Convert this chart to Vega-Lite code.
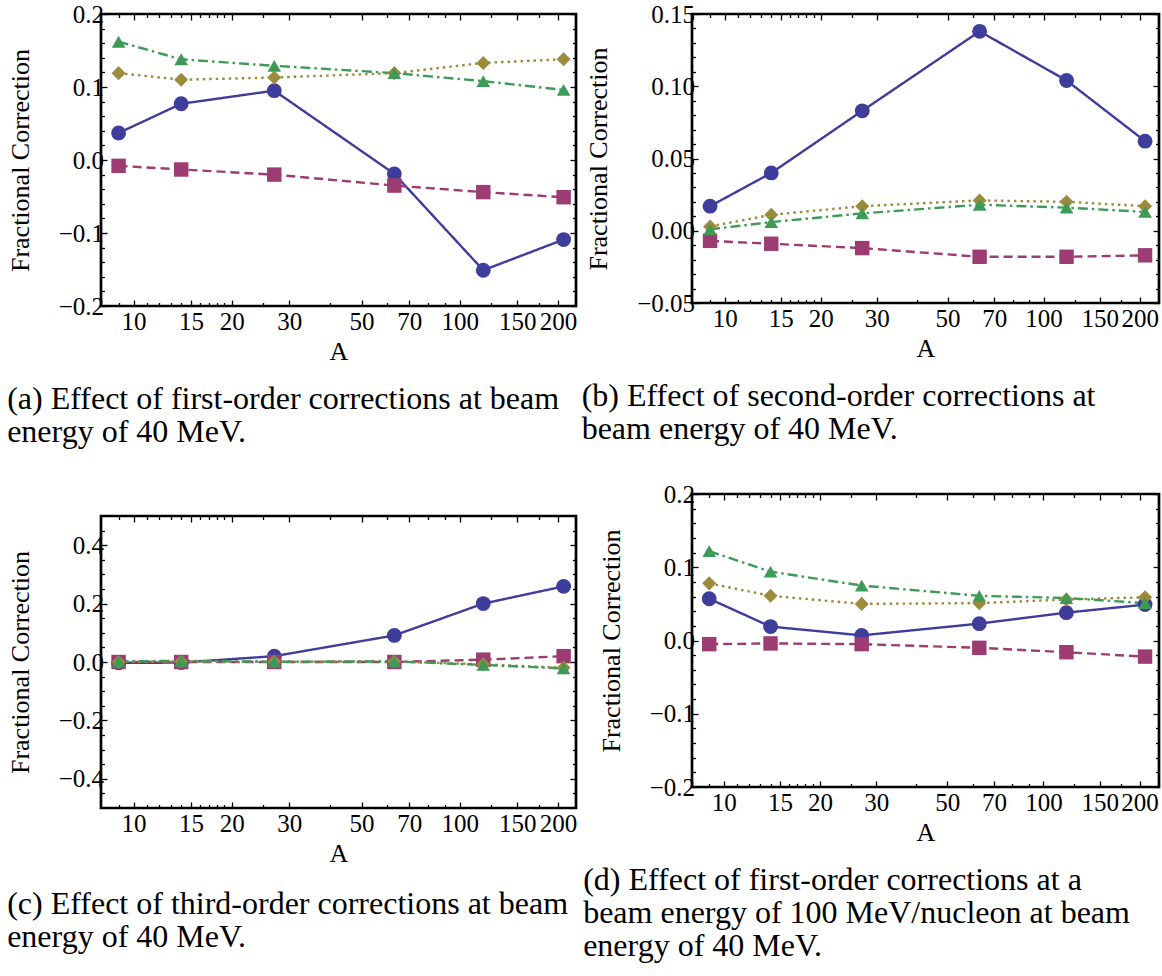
{
  "$schema": "https://vega.github.io/schema/vega-lite/v6.json",
  "padding": {"left": 5, "top": 0, "right": 0, "bottom": 0},
  "background": "white",
  "datasets": {
    "a": [
      {"A": 9, "series": "s1", "value": 0.037}, {"A": 14, "series": "s1", "value": 0.077}, {"A": 27, "series": "s1", "value": 0.095}, {"A": 63, "series": "s1", "value": -0.019}, {"A": 118, "series": "s1", "value": -0.151}, {"A": 208, "series": "s1", "value": -0.109},
      {"A": 9, "series": "s2", "value": -0.008}, {"A": 14, "series": "s2", "value": -0.013}, {"A": 27, "series": "s2", "value": -0.020}, {"A": 63, "series": "s2", "value": -0.035}, {"A": 118, "series": "s2", "value": -0.044}, {"A": 208, "series": "s2", "value": -0.051},
      {"A": 9, "series": "s3", "value": 0.119}, {"A": 14, "series": "s3", "value": 0.110}, {"A": 27, "series": "s3", "value": 0.113}, {"A": 63, "series": "s3", "value": 0.119}, {"A": 118, "series": "s3", "value": 0.133}, {"A": 208, "series": "s3", "value": 0.138},
      {"A": 9, "series": "s4", "value": 0.162}, {"A": 14, "series": "s4", "value": 0.138}, {"A": 27, "series": "s4", "value": 0.129}, {"A": 63, "series": "s4", "value": 0.119}, {"A": 118, "series": "s4", "value": 0.108}, {"A": 208, "series": "s4", "value": 0.096}
    ],
    "b": [
      {"A": 9, "series": "s1", "value": 0.017}, {"A": 14, "series": "s1", "value": 0.040}, {"A": 27, "series": "s1", "value": 0.083}, {"A": 63, "series": "s1", "value": 0.138}, {"A": 118, "series": "s1", "value": 0.104}, {"A": 208, "series": "s1", "value": 0.062},
      {"A": 9, "series": "s2", "value": -0.007}, {"A": 14, "series": "s2", "value": -0.009}, {"A": 27, "series": "s2", "value": -0.012}, {"A": 63, "series": "s2", "value": -0.018}, {"A": 118, "series": "s2", "value": -0.018}, {"A": 208, "series": "s2", "value": -0.017},
      {"A": 9, "series": "s3", "value": 0.003}, {"A": 14, "series": "s3", "value": 0.011}, {"A": 27, "series": "s3", "value": 0.017}, {"A": 63, "series": "s3", "value": 0.021}, {"A": 118, "series": "s3", "value": 0.020}, {"A": 208, "series": "s3", "value": 0.017},
      {"A": 9, "series": "s4", "value": 0.001}, {"A": 14, "series": "s4", "value": 0.006}, {"A": 27, "series": "s4", "value": 0.012}, {"A": 63, "series": "s4", "value": 0.018}, {"A": 118, "series": "s4", "value": 0.016}, {"A": 208, "series": "s4", "value": 0.013}
    ],
    "c": [
      {"A": 9, "series": "s1", "value": -0.003}, {"A": 14, "series": "s1", "value": -0.002}, {"A": 27, "series": "s1", "value": 0.020}, {"A": 63, "series": "s1", "value": 0.091}, {"A": 118, "series": "s1", "value": 0.200}, {"A": 208, "series": "s1", "value": 0.259},
      {"A": 9, "series": "s2", "value": 0.000}, {"A": 14, "series": "s2", "value": 0.000}, {"A": 27, "series": "s2", "value": 0.000}, {"A": 63, "series": "s2", "value": 0.000}, {"A": 118, "series": "s2", "value": 0.008}, {"A": 208, "series": "s2", "value": 0.020},
      {"A": 9, "series": "s3", "value": 0.000}, {"A": 14, "series": "s3", "value": 0.002}, {"A": 27, "series": "s3", "value": 0.001}, {"A": 63, "series": "s3", "value": 0.002}, {"A": 118, "series": "s3", "value": -0.008}, {"A": 208, "series": "s3", "value": -0.020},
      {"A": 9, "series": "s4", "value": 0.002}, {"A": 14, "series": "s4", "value": 0.004}, {"A": 27, "series": "s4", "value": 0.001}, {"A": 63, "series": "s4", "value": 0.002}, {"A": 118, "series": "s4", "value": -0.010}, {"A": 208, "series": "s4", "value": -0.022}
    ],
    "d": [
      {"A": 9, "series": "s1", "value": 0.057}, {"A": 14, "series": "s1", "value": 0.019}, {"A": 27, "series": "s1", "value": 0.007}, {"A": 63, "series": "s1", "value": 0.023}, {"A": 118, "series": "s1", "value": 0.038}, {"A": 208, "series": "s1", "value": 0.049},
      {"A": 9, "series": "s2", "value": -0.005}, {"A": 14, "series": "s2", "value": -0.004}, {"A": 27, "series": "s2", "value": -0.005}, {"A": 63, "series": "s2", "value": -0.010}, {"A": 118, "series": "s2", "value": -0.016}, {"A": 208, "series": "s2", "value": -0.022},
      {"A": 9, "series": "s3", "value": 0.078}, {"A": 14, "series": "s3", "value": 0.061}, {"A": 27, "series": "s3", "value": 0.050}, {"A": 63, "series": "s3", "value": 0.051}, {"A": 118, "series": "s3", "value": 0.056}, {"A": 208, "series": "s3", "value": 0.059},
      {"A": 9, "series": "s4", "value": 0.122}, {"A": 14, "series": "s4", "value": 0.094}, {"A": 27, "series": "s4", "value": 0.075}, {"A": 63, "series": "s4", "value": 0.061}, {"A": 118, "series": "s4", "value": 0.058}, {"A": 208, "series": "s4", "value": 0.051}
    ]
  },
  "hconcat": [
    {
      "vconcat": [
        {
          "width": 475, "height": 292,
          "data": {"name": "a"},
          "title": {"text": ["(a) Effect of first-order corrections at beam", "energy of 40 MeV."], "offset": 20},
          "layer": [
            {"mark": {"type": "line", "strokeWidth": 2.4},
             "encoding": {
               "x": {"field": "A", "type": "quantitative", "scale": {"type": "log", "domain": [7.95, 227], "nice": false}, "axis": {"orient": "bottom", "values": [10, 15, 20, 30, 50, 70, 100, 150, 200], "format": "d", "tickSize": -6, "labelPadding": 9, "title": "A", "titlePadding": 4}},
               "y": {"field": "value", "type": "quantitative", "scale": {"domain": [-0.2, 0.2], "nice": false, "zero": false}, "axis": {"orient": "left", "values": [-0.2, -0.1, 0, 0.1, 0.2], "format": ".1f", "tickSize": -6, "labelPadding": 3.5, "title": "Fractional Correction", "titlePadding": 25}},
               "color": {"field": "series", "type": "nominal", "scale": {"domain": ["s1", "s2", "s3", "s4"], "range": ["#3f3d9c", "#9c3c72", "#9b8b3d", "#3d9b57"]}, "legend": null},
               "strokeDash": {"field": "series", "type": "nominal", "scale": {"domain": ["s1", "s2", "s3", "s4"], "range": [[1, 0], [9, 5], [2.5, 4], [10, 4, 2.5, 4]]}, "legend": null}
             }},
            {"mark": {"type": "point", "filled": true, "opacity": 1},
             "encoding": {
               "x": {"field": "A", "type": "quantitative", "axis": {"orient": "top", "values": [10, 15, 20, 30, 50, 70, 100, 150, 200], "tickSize": -6, "labels": false, "title": null}},
               "y": {"field": "value", "type": "quantitative", "axis": {"orient": "right", "values": [-0.2, -0.1, 0, 0.1, 0.2], "tickSize": -6, "labels": false, "title": null}},
               "color": {"field": "series", "type": "nominal", "legend": null},
               "shape": {"field": "series", "type": "nominal", "scale": {"domain": ["s1", "s2", "s3", "s4"], "range": ["circle", "square", "diamond", "triangle-up"]}, "legend": null},
               "size": {"field": "series", "type": "ordinal", "scale": {"domain": ["s1", "s2", "s3", "s4"], "range": [220, 185, 270, 260]}, "legend": null}
             }},
            {"mark": {"type": "point", "opacity": 0},
             "encoding": {
               "x": {"field": "A", "type": "quantitative", "axis": {"orient": "bottom", "values": [9, 11, 12, 13, 14, 16, 17, 18, 19, 25, 40, 60, 80, 90, 125, 175], "tickSize": -3.5, "labels": false, "title": null}},
               "y": {"field": "value", "type": "quantitative", "axis": {"orient": "left", "values": [-0.18, -0.16, -0.14, -0.12, -0.08, -0.06, -0.04, -0.02, 0.02, 0.04, 0.06, 0.08, 0.12, 0.14, 0.16, 0.18], "tickSize": -3.5, "labels": false, "title": null}}
             }},
            {"mark": {"type": "point", "opacity": 0},
             "encoding": {
               "x": {"field": "A", "type": "quantitative", "axis": {"orient": "top", "values": [9, 11, 12, 13, 14, 16, 17, 18, 19, 25, 40, 60, 80, 90, 125, 175], "tickSize": -3.5, "labels": false, "title": null}},
               "y": {"field": "value", "type": "quantitative", "axis": {"orient": "right", "values": [-0.18, -0.16, -0.14, -0.12, -0.08, -0.06, -0.04, -0.02, 0.02, 0.04, 0.06, 0.08, 0.12, 0.14, 0.16, 0.18], "tickSize": -3.5, "labels": false, "title": null}}
             }}
          ],
          "resolve": {"axis": {"x": "independent", "y": "independent"}}
        },
        {
          "width": 475, "height": 292,
          "data": {"name": "c"},
          "title": {"text": ["(c) Effect of third-order corrections at beam", "energy of 40 MeV."], "offset": 23},
          "layer": [
            {"mark": {"type": "line", "strokeWidth": 2.4},
             "encoding": {
               "x": {"field": "A", "type": "quantitative", "scale": {"type": "log", "domain": [7.95, 227], "nice": false}, "axis": {"orient": "bottom", "values": [10, 15, 20, 30, 50, 70, 100, 150, 200], "format": "d", "tickSize": -6, "labelPadding": 9, "title": "A", "titlePadding": 4}},
               "y": {"field": "value", "type": "quantitative", "scale": {"domain": [-0.5, 0.5], "nice": false, "zero": false}, "axis": {"orient": "left", "values": [-0.4, -0.2, 0, 0.2, 0.4], "format": ".1f", "tickSize": -6, "labelPadding": 3.5, "title": "Fractional Correction", "titlePadding": 25}},
               "color": {"field": "series", "type": "nominal", "scale": {"domain": ["s1", "s2", "s3", "s4"], "range": ["#3f3d9c", "#9c3c72", "#9b8b3d", "#3d9b57"]}, "legend": null},
               "strokeDash": {"field": "series", "type": "nominal", "scale": {"domain": ["s1", "s2", "s3", "s4"], "range": [[1, 0], [9, 5], [2.5, 4], [10, 4, 2.5, 4]]}, "legend": null}
             }},
            {"mark": {"type": "point", "filled": true, "opacity": 1},
             "encoding": {
               "x": {"field": "A", "type": "quantitative", "axis": {"orient": "top", "values": [10, 15, 20, 30, 50, 70, 100, 150, 200], "tickSize": -6, "labels": false, "title": null}},
               "y": {"field": "value", "type": "quantitative", "axis": {"orient": "right", "values": [-0.4, -0.2, 0, 0.2, 0.4], "tickSize": -6, "labels": false, "title": null}},
               "color": {"field": "series", "type": "nominal", "legend": null},
               "shape": {"field": "series", "type": "nominal", "scale": {"domain": ["s1", "s2", "s3", "s4"], "range": ["circle", "square", "diamond", "triangle-up"]}, "legend": null},
               "size": {"field": "series", "type": "ordinal", "scale": {"domain": ["s1", "s2", "s3", "s4"], "range": [220, 185, 270, 260]}, "legend": null}
             }},
            {"mark": {"type": "point", "opacity": 0},
             "encoding": {
               "x": {"field": "A", "type": "quantitative", "axis": {"orient": "bottom", "values": [9, 11, 12, 13, 14, 16, 17, 18, 19, 25, 40, 60, 80, 90, 125, 175], "tickSize": -3.5, "labels": false, "title": null}},
               "y": {"field": "value", "type": "quantitative", "axis": {"orient": "left", "values": [-0.45, -0.35, -0.3, -0.25, -0.15, -0.1, -0.05, 0.05, 0.1, 0.15, 0.25, 0.3, 0.35, 0.45], "tickSize": -3.5, "labels": false, "title": null}}
             }},
            {"mark": {"type": "point", "opacity": 0},
             "encoding": {
               "x": {"field": "A", "type": "quantitative", "axis": {"orient": "top", "values": [9, 11, 12, 13, 14, 16, 17, 18, 19, 25, 40, 60, 80, 90, 125, 175], "tickSize": -3.5, "labels": false, "title": null}},
               "y": {"field": "value", "type": "quantitative", "axis": {"orient": "right", "values": [-0.45, -0.35, -0.3, -0.25, -0.15, -0.1, -0.05, 0.05, 0.1, 0.15, 0.25, 0.3, 0.35, 0.45], "tickSize": -3.5, "labels": false, "title": null}}
             }}
          ],
          "resolve": {"axis": {"x": "independent", "y": "independent"}}
        }
      ],
      "spacing": 64
    },
    {
      "vconcat": [
        {
          "width": 467, "height": 289,
          "data": {"name": "b"},
          "title": {"text": ["(b) Effect of second-order corrections at", "beam energy of 40 MeV."], "offset": 20, "dx": -4},
          "layer": [
            {"mark": {"type": "line", "strokeWidth": 2.4},
             "encoding": {
               "x": {"field": "A", "type": "quantitative", "scale": {"type": "log", "domain": [7.9, 230], "nice": false}, "axis": {"orient": "bottom", "values": [10, 15, 20, 30, 50, 70, 100, 150, 200], "format": "d", "tickSize": -6, "labelPadding": 9, "title": "A", "titlePadding": 4}},
               "y": {"field": "value", "type": "quantitative", "scale": {"domain": [-0.05, 0.15], "nice": false, "zero": false}, "axis": {"orient": "left", "values": [-0.05, 0, 0.05, 0.1, 0.15], "format": ".2f", "tickSize": -6, "labelPadding": 3.5, "title": "Fractional Correction", "titlePadding": 25}},
               "color": {"field": "series", "type": "nominal", "scale": {"domain": ["s1", "s2", "s3", "s4"], "range": ["#3f3d9c", "#9c3c72", "#9b8b3d", "#3d9b57"]}, "legend": null},
               "strokeDash": {"field": "series", "type": "nominal", "scale": {"domain": ["s1", "s2", "s3", "s4"], "range": [[1, 0], [9, 5], [2.5, 4], [10, 4, 2.5, 4]]}, "legend": null}
             }},
            {"mark": {"type": "point", "filled": true, "opacity": 1},
             "encoding": {
               "x": {"field": "A", "type": "quantitative", "axis": {"orient": "top", "values": [10, 15, 20, 30, 50, 70, 100, 150, 200], "tickSize": -6, "labels": false, "title": null}},
               "y": {"field": "value", "type": "quantitative", "axis": {"orient": "right", "values": [-0.05, 0, 0.05, 0.1, 0.15], "tickSize": -6, "labels": false, "title": null}},
               "color": {"field": "series", "type": "nominal", "legend": null},
               "shape": {"field": "series", "type": "nominal", "scale": {"domain": ["s1", "s2", "s3", "s4"], "range": ["circle", "square", "diamond", "triangle-up"]}, "legend": null},
               "size": {"field": "series", "type": "ordinal", "scale": {"domain": ["s1", "s2", "s3", "s4"], "range": [220, 185, 270, 260]}, "legend": null}
             }},
            {"mark": {"type": "point", "opacity": 0},
             "encoding": {
               "x": {"field": "A", "type": "quantitative", "axis": {"orient": "bottom", "values": [9, 11, 12, 13, 14, 16, 17, 18, 19, 25, 40, 60, 80, 90, 125, 175], "tickSize": -3.5, "labels": false, "title": null}},
               "y": {"field": "value", "type": "quantitative", "axis": {"orient": "left", "values": [-0.04, -0.03, -0.02, -0.01, 0.01, 0.02, 0.03, 0.04, 0.06, 0.07, 0.08, 0.09, 0.11, 0.12, 0.13, 0.14], "tickSize": -3.5, "labels": false, "title": null}}
             }},
            {"mark": {"type": "point", "opacity": 0},
             "encoding": {
               "x": {"field": "A", "type": "quantitative", "axis": {"orient": "top", "values": [9, 11, 12, 13, 14, 16, 17, 18, 19, 25, 40, 60, 80, 90, 125, 175], "tickSize": -3.5, "labels": false, "title": null}},
               "y": {"field": "value", "type": "quantitative", "axis": {"orient": "right", "values": [-0.04, -0.03, -0.02, -0.01, 0.01, 0.02, 0.03, 0.04, 0.06, 0.07, 0.08, 0.09, 0.11, 0.12, 0.13, 0.14], "tickSize": -3.5, "labels": false, "title": null}}
             }}
          ],
          "resolve": {"axis": {"x": "independent", "y": "independent"}}
        },
        {
          "width": 467, "height": 293,
          "data": {"name": "d"},
          "title": {"text": ["(d) Effect of first-order corrections at a", "beam energy of 100 MeV/nucleon at beam", "energy of 40 MeV."], "offset": 20, "dx": -15},
          "layer": [
            {"mark": {"type": "line", "strokeWidth": 2.4},
             "encoding": {
               "x": {"field": "A", "type": "quantitative", "scale": {"type": "log", "domain": [7.95, 230], "nice": false}, "axis": {"orient": "bottom", "values": [10, 15, 20, 30, 50, 70, 100, 150, 200], "format": "d", "tickSize": -6, "labelPadding": 9, "title": "A", "titlePadding": 4}},
               "y": {"field": "value", "type": "quantitative", "scale": {"domain": [-0.2, 0.2], "nice": false, "zero": false}, "axis": {"orient": "left", "values": [-0.2, -0.1, 0, 0.1, 0.2], "format": ".1f", "tickSize": -6, "labelPadding": 3.5, "title": "Fractional Correction", "titlePadding": 25}},
               "color": {"field": "series", "type": "nominal", "scale": {"domain": ["s1", "s2", "s3", "s4"], "range": ["#3f3d9c", "#9c3c72", "#9b8b3d", "#3d9b57"]}, "legend": null},
               "strokeDash": {"field": "series", "type": "nominal", "scale": {"domain": ["s1", "s2", "s3", "s4"], "range": [[1, 0], [9, 5], [2.5, 4], [10, 4, 2.5, 4]]}, "legend": null}
             }},
            {"mark": {"type": "point", "filled": true, "opacity": 1},
             "encoding": {
               "x": {"field": "A", "type": "quantitative", "axis": {"orient": "top", "values": [10, 15, 20, 30, 50, 70, 100, 150, 200], "tickSize": -6, "labels": false, "title": null}},
               "y": {"field": "value", "type": "quantitative", "axis": {"orient": "right", "values": [-0.2, -0.1, 0, 0.1, 0.2], "tickSize": -6, "labels": false, "title": null}},
               "color": {"field": "series", "type": "nominal", "legend": null},
               "shape": {"field": "series", "type": "nominal", "scale": {"domain": ["s1", "s2", "s3", "s4"], "range": ["circle", "square", "diamond", "triangle-up"]}, "legend": null},
               "size": {"field": "series", "type": "ordinal", "scale": {"domain": ["s1", "s2", "s3", "s4"], "range": [220, 185, 270, 260]}, "legend": null}
             }},
            {"mark": {"type": "point", "opacity": 0},
             "encoding": {
               "x": {"field": "A", "type": "quantitative", "axis": {"orient": "bottom", "values": [9, 11, 12, 13, 14, 16, 17, 18, 19, 25, 40, 60, 80, 90, 125, 175], "tickSize": -3.5, "labels": false, "title": null}},
               "y": {"field": "value", "type": "quantitative", "axis": {"orient": "left", "values": [-0.18, -0.16, -0.14, -0.12, -0.08, -0.06, -0.04, -0.02, 0.02, 0.04, 0.06, 0.08, 0.12, 0.14, 0.16, 0.18], "tickSize": -3.5, "labels": false, "title": null}}
             }},
            {"mark": {"type": "point", "opacity": 0},
             "encoding": {
               "x": {"field": "A", "type": "quantitative", "axis": {"orient": "top", "values": [9, 11, 12, 13, 14, 16, 17, 18, 19, 25, 40, 60, 80, 90, 125, 175], "tickSize": -3.5, "labels": false, "title": null}},
               "y": {"field": "value", "type": "quantitative", "axis": {"orient": "right", "values": [-0.18, -0.16, -0.14, -0.12, -0.08, -0.06, -0.04, -0.02, 0.02, 0.04, 0.06, 0.08, 0.12, 0.14, 0.16, 0.18], "tickSize": -3.5, "labels": false, "title": null}}
             }}
          ],
          "resolve": {"axis": {"x": "independent", "y": "independent"}}
        }
      ],
      "spacing": 33
    }
  ],
  "spacing": 1,
  "config": {
    "view": {"stroke": "black", "strokeWidth": 2.7},
    "axis": {"domain": false, "grid": false, "labelFont": "Liberation Serif", "labelFontSize": 25, "labelColor": "black", "titleFont": "Liberation Serif", "titleFontSize": 26, "titleFontWeight": "normal", "titleColor": "black", "tickColor": "black", "tickWidth": 1.3, "labelOverlap": false, "labelFlush": false},
    "title": {"font": "Liberation Serif", "fontSize": 32, "fontWeight": "normal", "color": "black", "anchor": "start", "orient": "bottom", "frame": "bounds", "lineHeight": 33}
  }
}
